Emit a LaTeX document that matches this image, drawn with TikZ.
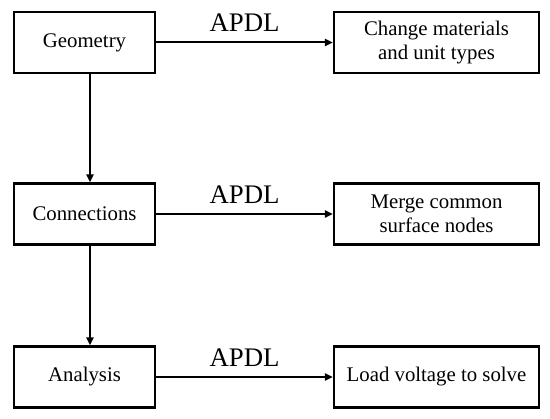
\documentclass[tikz,border=0pt]{standalone}
\usepackage{fontspec}
\setmainfont{Liberation Serif}
\usetikzlibrary{arrows.meta}
\begin{document}
\begin{tikzpicture}[x=1pt,y=-1pt,
  lbox/.style={draw,line width=2.2pt,rectangle,inner sep=0pt,minimum width=141pt,minimum height=61pt,align=center,font=\fontsize{20.8}{24}\selectfont},
  rbox/.style={lbox,minimum width=205pt},
  arr/.style={line width=2pt,-{Triangle[length=8pt,width=7pt]}},
  apdl/.style={midway,anchor=base,yshift=10.5pt,inner sep=0pt,font=\fontsize{26.8}{30}\selectfont}]
\useasboundingbox (0,0) rectangle (550,419);
\node[lbox] (geo) at (84.5,42.5) {Geometry};
\node[rbox] (chg) at (436.5,42.5) {Change materials\\and unit types};
\node[lbox] (con) at (84.5,214) {Connections};
\node[rbox] (mrg) at (436.5,214) {Merge common\\surface nodes};
\node[lbox] (ana) at (84.5,377) {Analysis};
\node[rbox] (lod) at (436.5,377) {Load voltage to solve};
\draw[arr] (geo.east) -- (chg.west) node[apdl] {APDL};
\draw[arr] (con.east) -- (mrg.west) node[apdl] {APDL};
\draw[arr] (ana.east) -- (lod.west) node[apdl] {APDL};
\draw[arr] ([xshift=5.5pt]geo.south) -- ([xshift=5.5pt]con.north);
\draw[arr] ([xshift=5.5pt]con.south) -- ([xshift=5.5pt]ana.north);
\end{tikzpicture}
\end{document}
